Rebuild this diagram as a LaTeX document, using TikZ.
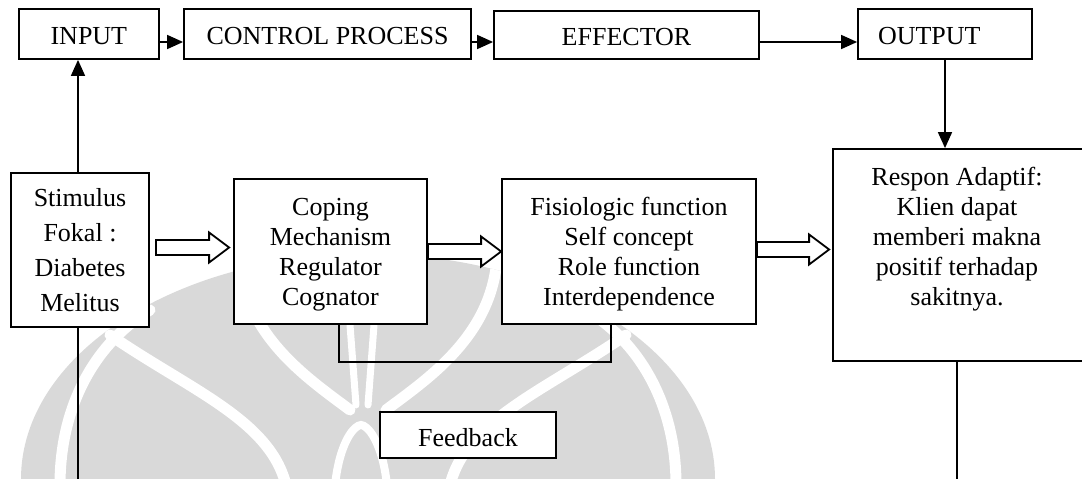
\documentclass[tikz,border=0pt]{standalone}
\usepackage{fontspec}
\setmainfont{Liberation Serif}
\usetikzlibrary{arrows.meta,calc}
% hollow block arrow between two nodes: from, to, left gap, right gap, vertical offset
\newcommand{\fatarrow}[5]{%
  \draw[hollow] let \p1=(#1.east), \p2=(#2.west) in
    (\x1+#3pt, \y1+#5pt-7.5pt) -- (\x2-#4pt-20pt, \y1+#5pt-7.5pt)
    -- (\x2-#4pt-20pt, \y1+#5pt-15pt) -- (\x2-#4pt, \y1+#5pt)
    -- (\x2-#4pt-20pt, \y1+#5pt+15pt) -- (\x2-#4pt-20pt, \y1+#5pt+7.5pt)
    -- (\x1+#3pt, \y1+#5pt+7.5pt) -- cycle;}
\begin{document}
\begin{tikzpicture}[x=1pt,y=-1pt,
  box/.style={draw, line width=1.8pt, fill=white, inner sep=0pt, align=center,
    font=\fontsize{26}{30}\selectfont},
  topbox/.style={box, minimum height=50, text height=20pt, text depth=0pt},
  link/.style={line width=1.6pt},
  tip/.style={-{Triangle[length=16pt,width=14pt]}},
  hollow/.style={draw, line width=1.8pt, fill=white, line join=miter},
  gap/.style={draw=white, line width=11pt, line cap=round}
]
\useasboundingbox (0,0) rectangle (1082,479);

% faint emblem in the background
\begin{scope}
  \clip (368,479) ellipse [x radius=347, y radius=225];
  \fill[black!15] (0,0) rectangle (1082,479);
  \draw[gap] (60,485) .. controls (60,400) and (100,340) .. (150,310);
  \draw[gap] (676,485) .. controls (676,400) and (636,340) .. (586,310);
  \draw[gap] (110,335) .. controls (190,390) and (270,420) .. (286,485);
  \draw[gap] (626,335) .. controls (546,390) and (466,420) .. (450,485);
  \draw[gap] (240,268) .. controls (250,340) and (310,380) .. (350,410);
  \draw[gap] (496,268) .. controls (486,340) and (426,380) .. (386,410);
  \draw[gap, line width=7pt] (350,325) -- (356,405);
  \draw[gap, line width=7pt] (374,325) -- (368,405);
  \draw[gap, line width=8pt] (335,485) .. controls (340,440) and (355,425) .. (361,425)
    .. controls (367,425) and (382,440) .. (387,485);
\end{scope}

% top row
\node[topbox, minimum width=140.3] (inp) at (88.85,34) {INPUT};
\node[topbox, minimum width=287] (ctrl) at (327.5,34) {CONTROL PROCESS};
\node[topbox, minimum width=265, minimum height=48] (eff) at (626.5,35) {EFFECTOR};
\node[topbox, minimum width=174, text width=134, inner xsep=20,
  align=left] (outp) at (945,34) {OUTPUT};

% middle row
\node[box, minimum width=138, minimum height=154, font=\fontsize{26}{35}\selectfont]
  (stim) at (80,250) {Stimulus\\Fokal :\\Diabetes\\Melitus};
\node[box, minimum width=193, minimum height=145, text depth=0pt] (cop) at (330.5,251.5)
  {Coping\\Mechanism\\Regulator\\Cognator};
\node[box, minimum width=254, minimum height=145, text depth=0pt] (fis) at (629,251.5)
  {Fisiologic function\\Self concept\\Role function\\Interdependence};
\node[box, minimum width=250, minimum height=212] (resp) at (958,255) {};
\node[inner sep=0pt, align=center, font=\fontsize{26}{30}\selectfont] (resptext)
  at (957,239) {Respon Adaptif:\\Klien dapat\\memberi makna\\positif terhadap\\sakitnya.};

\node[box, minimum width=176, minimum height=46, text height=22pt, text depth=0pt]
  (fb) at (468,435) {Feedback};

% connectors
\draw[link,tip] ([yshift=-8pt]inp.east) -- ([yshift=-8pt]ctrl.west);
\draw[link,tip] ([yshift=-8pt]ctrl.east) -- ([yshift=-7pt]eff.west);
\draw[link,tip] ([yshift=-7pt]eff.east) -- ([yshift=-8pt]outp.west);
\draw[link,tip] ([xshift=-2pt]stim.north) -- ([xshift=-2pt]stim.north |- inp.south);
\coordinate (stimend) at (78,482);
\draw[link] ([xshift=-2pt]stim.south) -- (stimend);
\draw[link] ([xshift=8.5pt]cop.south) -- ++(0,37) -| ([xshift=-18pt]fis.south);
\draw[link,tip] (outp.south) -- (outp.south |- resp.north);
\coordinate (respend) at (957,482);
\draw[link] (resp.south -| respend) -- (respend);

\fatarrow{stim}{cop}{6}{4}{2.5}
\fatarrow{cop}{fis}{0}{0}{0}
\fatarrow{fis}{resp}{0}{3}{2}
\end{tikzpicture}
\end{document}
